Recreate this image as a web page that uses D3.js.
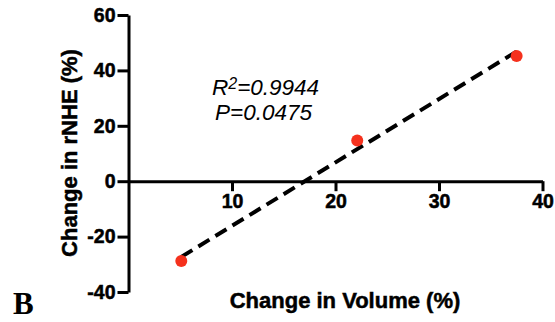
<!DOCTYPE html>
<html>
<head>
<meta charset="utf-8">
<script src="https://cdn.jsdelivr.net/npm/d3@7"></script>
<style>
  body { margin: 0; background: #fff; }
  .axis path, .axis line { stroke: #000; stroke-width: 3; }
  .axis text { font-family: "Liberation Sans", Arial, sans-serif; font-weight: bold; font-size: 19.5px; fill: #000; stroke: #000; stroke-width: 0.5px; }
  .title { font-family: "Liberation Sans", Arial, sans-serif; font-weight: bold; font-size: 22px; stroke: #000; stroke-width: 0.5px; }
</style>
</head>
<body>
<script>
// values
var volume = [5.1, 22.1, 37.5];
var rnhe = [-28.8, 14.7, 45.2];
var xTicks = [10, 20, 30, 40];
var yTicks = [-40, -20, 0, 20, 40, 60];
var r2Text = "0.9944";
var pText = "0.0475";

var w = 555;
var h = 322;

var svg = d3.select("body")
            .append("svg")
            .attr("width", w)
            .attr("height", h);

var x = d3.scaleLinear().domain([0, 40]).range([128.5, 542.5]);
var y = d3.scaleLinear().domain([-40, 60]).range([292, 15]);

function plain(d) { return String(d); } // plain hyphen for negatives

// y axis
svg.append("g")
    .attr("class", "axis")
    .attr("transform", "translate(" + x(0) + ",0)")
    .call(d3.axisLeft(y).tickValues(yTicks).tickFormat(plain).tickSize(11).tickSizeOuter(0).tickPadding(2));

// x axis sits on y = 0
svg.append("g")
    .attr("class", "axis")
    .attr("transform", "translate(0," + y(0) + ")")
    .call(d3.axisBottom(x).tickValues(xTicks).tickFormat(plain).tickSize(10).tickSizeOuter(0).tickPadding(3));

// least squares fit through the points
var n = volume.length;
var mx = d3.mean(volume), my = d3.mean(rnhe);
var sxy = 0, sxx = 0;
for (var i = 0; i < n; i++) {
    sxy += (volume[i] - mx) * (rnhe[i] - my);
    sxx += (volume[i] - mx) * (volume[i] - mx);
}
var slope = sxy / sxx;
var icpt = my - slope * mx;
var x0 = d3.min(volume), x1 = d3.max(volume);

svg.append("line")
    .attr("x1", x(x0)).attr("y1", y(icpt + slope * x0))
    .attr("x2", x(x1)).attr("y2", y(icpt + slope * x1))
    .style("stroke", "#000")
    .style("stroke-width", 4)
    .style("stroke-dasharray", "13,7");

svg.selectAll("circle")
    .data(volume)
    .enter()
    .append("circle")
    .attr("cx", function(d) { return x(d); })
    .attr("cy", function(d, i) { return y(rnhe[i]); })
    .attr("r", 6)
    .style("fill", "#f5311d");

// stats
var stat = svg.append("text")
    .attr("x", 212).attr("y", 95)
    .style("font-family", "Liberation Sans, Arial, sans-serif")
    .style("font-style", "italic")
    .style("font-size", "22.5px");
stat.append("tspan").text("R");
stat.append("tspan").attr("dy", -6).style("font-size", "16px").text("2");
stat.append("tspan").attr("dy", 6).text("=" + r2Text);

svg.append("text")
    .attr("x", 215).attr("y", 120)
    .style("font-family", "Liberation Sans, Arial, sans-serif")
    .style("font-style", "italic")
    .style("font-size", "22.5px")
    .text("P=" + pText);

// axis titles
svg.append("text")
    .attr("class", "title")
    .attr("text-anchor", "middle")
    .attr("x", 345).attr("y", 308)
    .text("Change in Volume (%)");

svg.append("text")
    .attr("class", "title")
    .attr("text-anchor", "middle")
    .attr("transform", "translate(77,153) rotate(-90)")
    .text("Change in rNHE (%)");

svg.append("text")
    .attr("x", 13).attr("y", 314)
    .style("font-family", "Liberation Serif, Times New Roman, serif")
    .style("font-weight", "bold")
    .style("font-size", "31px")
    .text("B");
</script>
</body>
</html>
